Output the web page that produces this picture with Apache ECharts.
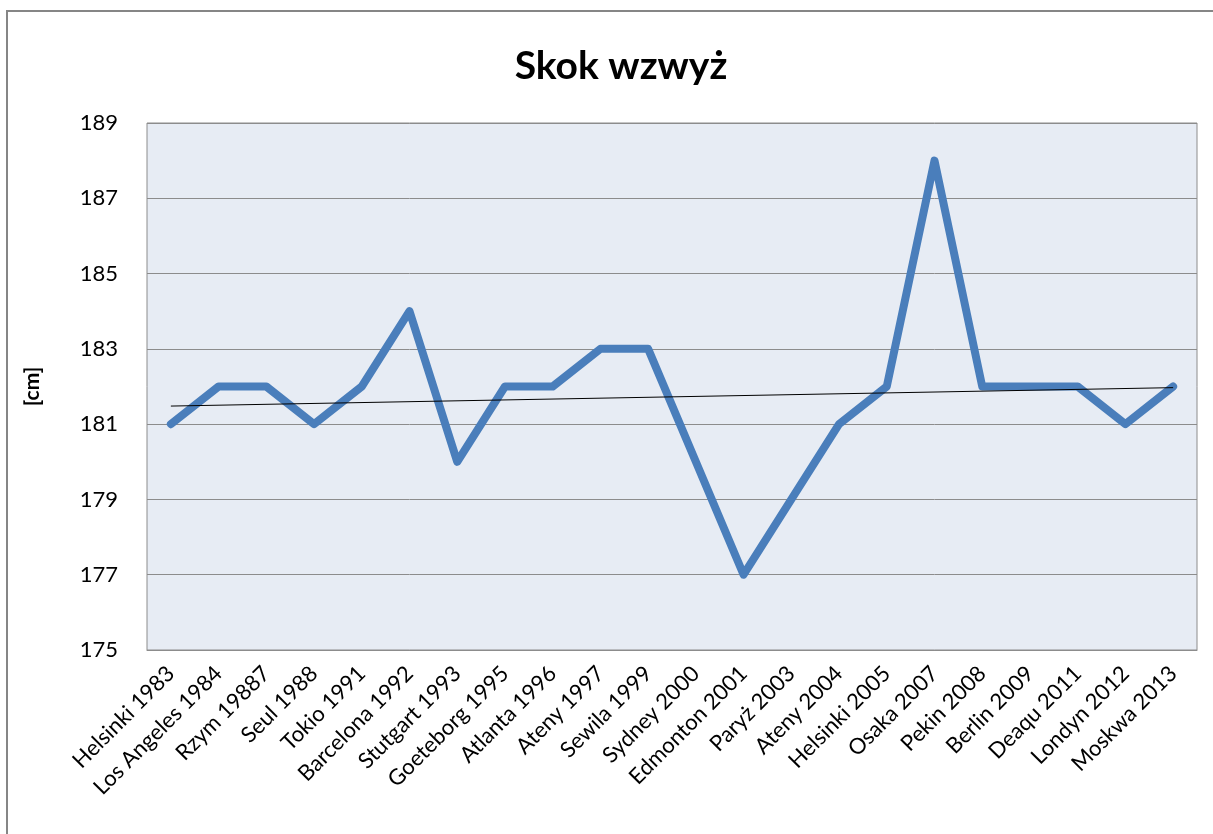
<!DOCTYPE html>
<html>
<head>
<meta charset="utf-8">
<script src="https://cdn.jsdelivr.net/npm/echarts@6/dist/echarts.min.js"></script>
<style>
  html, body { margin: 0; padding: 0; background: #fff; }
  #chart { width: 1213px; height: 834px; }
</style>
</head>
<body>
<div id="chart"></div>
<script>
// miejsca i lata mistrzostw
const categories = [
  "Helsinki 1983", "Los Angeles 1984", "Rzym 19887", "Seul 1988", "Tokio 1991",
  "Barcelona 1992", "Stutgart 1993", "Goeteborg 1995", "Atlanta 1996", "Ateny 1997",
  "Sewila 1999", "Sydney 2000", "Edmonton 2001", "Paryż 2003", "Ateny 2004",
  "Helsinki 2005", "Osaka 2007", "Pekin 2008", "Berlin 2009", "Deaqu 2011",
  "Londyn 2012", "Moskwa 2013"
];
// wyniki [cm]
const heights = [181, 182, 182, 181, 182, 184, 180, 182, 182, 183, 183, 180, 177, 179, 181, 182, 188, 182, 182, 182, 181, 182];
// linia trendu - odczytane końce
const trendStart = 181.48;
const trendEnd = 181.97;
const yTicks = [175, 177, 179, 181, 183, 185, 187, 189];

const font = "Lato, 'Open Sans', sans-serif";
const chart = echarts.init(document.getElementById("chart"));

const option = {
  animation: false,
  backgroundColor: "#fff",
  title: {
    text: "Skok wzwyż",
    left: 616,
    textAlign: "center",
    top: 42,
    textStyle: { fontFamily: font, fontSize: 39, fontWeight: "bold", color: "#000" }
  },
  graphic: [
    {
      type: "rect",
      shape: { x: 7, y: 11, width: 1230, height: 850 },
      style: { fill: "none", stroke: "#868686", lineWidth: 2 },
      silent: true
    }
  ],
  grid: {
    left: 147,
    right: 16,
    top: 123,
    bottom: 184,
    show: true,
    backgroundColor: "#E7ECF4",
    borderColor: "#8C8C8C",
    borderWidth: 1
  },
  xAxis: {
    type: "category",
    data: categories,
    boundaryGap: true,
    axisTick: { show: false },
    axisLine: { show: true, lineStyle: { color: "#8C8C8C" } },
    axisLabel: {
      interval: 0,
      rotate: 45,
      margin: 20,
      fontFamily: font,
      fontSize: 22,
      color: "#000"
    }
  },
  yAxis: {
    type: "value",
    min: yTicks[0],
    max: yTicks[yTicks.length - 1],
    interval: 2,
    name: "[cm]",
    nameLocation: "middle",
    nameGap: 104,
    nameRotate: 90,
    nameTextStyle: { fontFamily: font, fontSize: 21, fontWeight: "bold", color: "#000" },
    axisLine: { show: false },
    axisTick: { show: false },
    axisLabel: { fontFamily: font, fontSize: 22, color: "#000", margin: 29 },
    splitLine: { show: true, lineStyle: { color: "#8C8C8C", width: 1 } }
  },
  series: [
    {
      name: "Skok wzwyż",
      type: "line",
      data: heights,
      symbol: "none",
      lineStyle: { color: "#4A7EBB", width: 8, join: "round", cap: "round" },
      z: 2
    },
    {
      name: "trend",
      type: "line",
      data: [[0, trendStart], [categories.length - 1, trendEnd]],
      symbol: "none",
      lineStyle: { color: "#000", width: 1 },
      z: 3
    }
  ]
};

chart.setOption(option);
</script>
</body>
</html>
